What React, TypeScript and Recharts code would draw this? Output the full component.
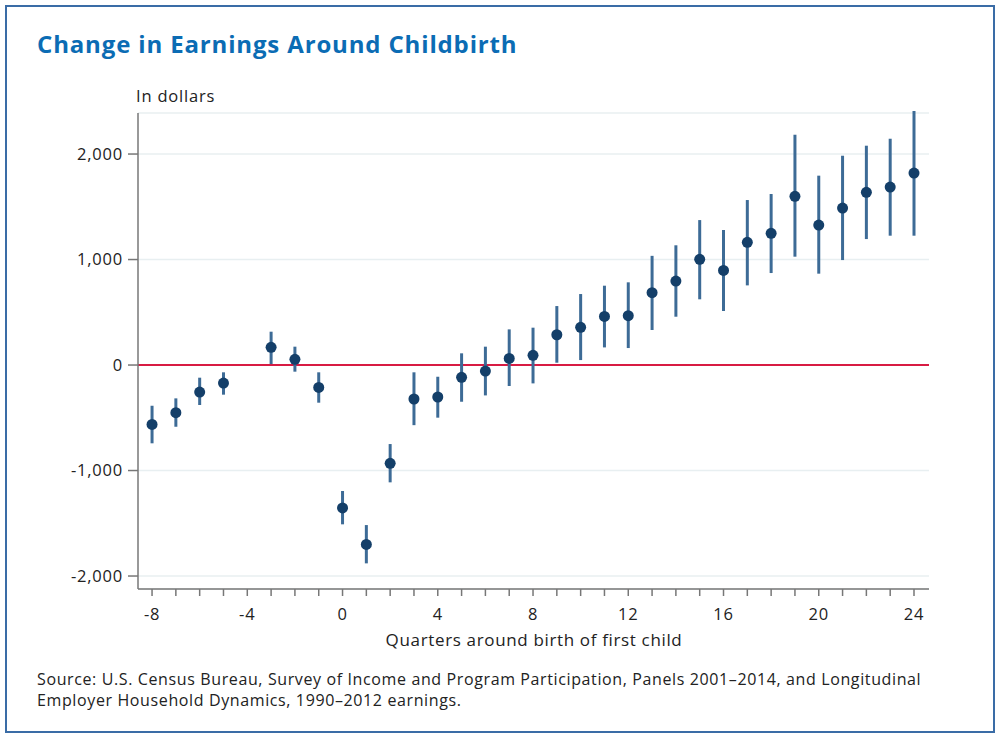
import React from "react";
import {
  ScatterChart,
  Scatter,
  XAxis,
  YAxis,
  CartesianGrid,
  ErrorBar,
  ReferenceLine,
} from "recharts";

// quarter -4 is the omitted reference period
const quarters = [
  -8, -7, -6, -5, -3, -2, -1, 0, 1, 2, 3, 4, 5, 6, 7, 8, 9, 10, 11, 12, 13, 14,
  15, 16, 17, 18, 19, 20, 21, 22, 23, 24,
];
const estimate = [
  -563, -452, -256, -171, 168, 54, -212, -1355, -1700, -932, -322, -303, -117,
  -57, 63, 92, 287, 357, 461, 468, 686, 796, 1002, 897, 1163, 1248, 1599, 1327,
  1488, 1637, 1687, 1820,
];
const lower = [
  -742, -585, -379, -281, 9, -63, -357, -1510, -1880, -1112, -570, -499, -348,
  -288, -199, -174, 22, 47, 167, 161, 332, 458, 623, 512, 755, 872, 1027, 866,
  995, 1194, 1226, 1226,
];
const upper = [
  -386, -316, -120, -69, 316, 174, -69, -1194, -1517, -749, -69, -111, 111, 174,
  338, 354, 559, 673, 752, 784, 1035, 1135, 1374, 1280, 1564, 1621, 2183, 1795,
  1984, 2079, 2145, 2408,
];

const xTicks = [
  -8, -7, -6, -5, -4, -3, -2, -1, 0, 1, 2, 3, 4, 5, 6, 7, 8, 9, 10, 11, 12, 13,
  14, 15, 16, 17, 18, 19, 20, 21, 22, 23, 24,
];
const yTicks = [-2000, -1000, 0, 1000, 2000];

const FONT = "'Open Sans', sans-serif";
const TEXT = "#222";

const rows = quarters.map((q, i) => ({
  q,
  estimate: estimate[i],
  err: [estimate[i] - lower[i], upper[i] - estimate[i]],
}));

const Dot = (p: any) => <circle cx={p.cx} cy={p.cy} r={5.5} fill="#143f69" />;

const tickStyle = {
  fill: TEXT,
  fontSize: 16.5,
  fontFamily: FONT,
  letterSpacing: 0.8,
};

export default function App() {
  return (
    <div
      style={{
        position: "absolute",
        left: 0,
        top: 0,
        width: 1000,
        height: 736,
        background: "#fff",
        fontFamily: FONT,
        color: TEXT,
      }}
    >
      <div
        style={{
          position: "absolute",
          left: 5,
          top: 5,
          width: 986,
          height: 724,
          border: "2px solid #3a6ca6",
        }}
      />
      <div
        style={{
          position: "absolute",
          left: 37,
          top: 27,
          fontSize: 24,
          fontWeight: 700,
          letterSpacing: 0.85,
          color: "#0b6cb4",
          whiteSpace: "nowrap",
        }}
      >
        Change in Earnings Around Childbirth
      </div>
      <div
        style={{
          position: "absolute",
          left: 136,
          top: 84,
          fontSize: 16.5,
          letterSpacing: 0.8,
        }}
      >
        In dollars
      </div>
      <div style={{ position: "absolute", top: 0, left: 0 }}>
        <ScatterChart
          width={1000}
          height={736}
          margin={{ top: 113, right: 71, bottom: 107, left: 0 }}
        >
          <CartesianGrid
            horizontal
            vertical={false}
            stroke="#e8eff1"
            strokeWidth={1.5}
          />
          <XAxis
            type="number"
            dataKey="q"
            domain={[-8.59, 24.63]}
            ticks={xTicks}
            interval={0}
            height={40}
            tickSize={7}
            tickMargin={12}
            tickFormatter={(v: number) => (v % 4 === 0 ? String(v) : "")}
            tick={tickStyle}
            stroke="#777"
            strokeWidth={1.5}
            allowDataOverflow
          />
          <YAxis
            type="number"
            dataKey="estimate"
            domain={[-2123, 2389]}
            ticks={yTicks}
            width={138}
            tickSize={10}
            tickMargin={5}
            tickFormatter={(v: number) => v.toLocaleString("en-US")}
            tick={tickStyle}
            stroke="#777"
            strokeWidth={1.5}
            allowDataOverflow
          />
          <ReferenceLine y={0} stroke="#d81b43" strokeWidth={2} />
          <Scatter data={rows} shape={Dot} isAnimationActive={false}>
            <ErrorBar
              dataKey="err"
              direction="y"
              width={0}
              stroke="#3d6b96"
              strokeWidth={3}
              isAnimationActive={false}
            />
          </Scatter>
        </ScatterChart>
      </div>
      <div
        style={{
          position: "absolute",
          left: 0,
          width: 1068,
          top: 628,
          textAlign: "center",
          fontSize: 17,
          letterSpacing: 0.65,
        }}
      >
        Quarters around birth of first child
      </div>
      <div
        style={{
          position: "absolute",
          left: 37,
          top: 669,
          fontSize: 16,
          lineHeight: "21px",
          letterSpacing: 0.62,
          whiteSpace: "nowrap",
        }}
      >
        Source: U.S. Census Bureau, Survey of Income and Program Participation,
        Panels 2001–2014, and Longitudinal
        <br />
        Employer Household Dynamics, 1990–2012 earnings.
      </div>
    </div>
  );
}
